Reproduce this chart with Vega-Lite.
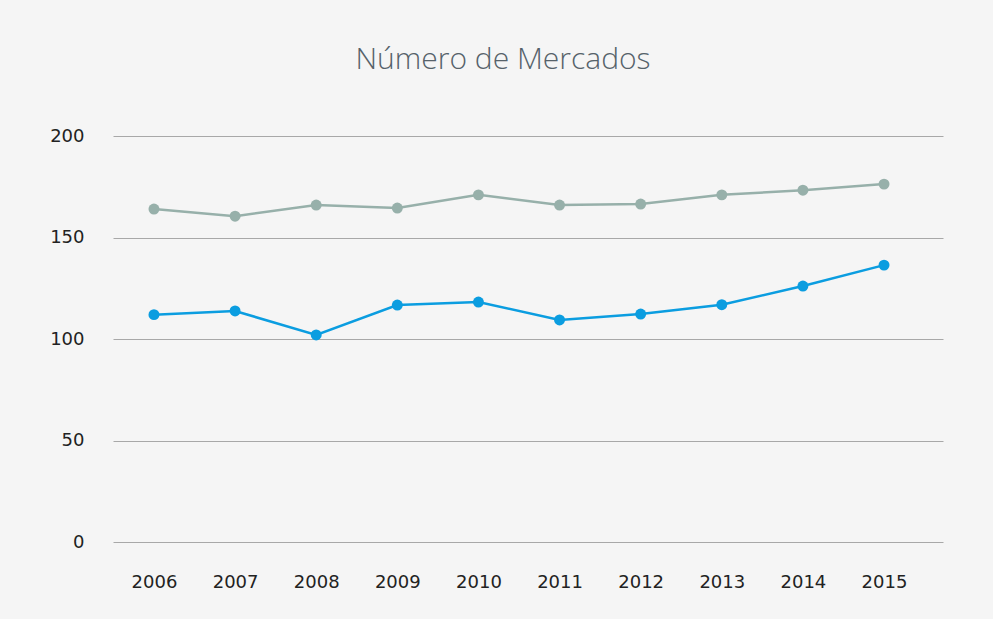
{
  "$schema": "https://vega.github.io/schema/vega-lite/v6.json",
  "autosize": {"type": "none"},
  "width": 830,
  "height": 406,
  "padding": {"left": 113, "top": 136, "right": 50, "bottom": 77},
  "background": "#f5f5f5",
  "title": {
    "text": "Número de Mercados",
    "fontSize": 30,
    "font": "Open Sans",
    "fontWeight": 300,
    "color": "#56626a",
    "anchor": "middle",
    "dx": -25,
    "offset": 52
  },
  "config": {
    "view": {"stroke": null},
    "font": "DejaVu Sans"
  },
  "data": {
    "values": [
      {"year": 2006, "series": "A", "value": 164},
      {"year": 2007, "series": "A", "value": 160.5},
      {"year": 2008, "series": "A", "value": 166},
      {"year": 2009, "series": "A", "value": 164.5},
      {"year": 2010, "series": "A", "value": 171},
      {"year": 2011, "series": "A", "value": 166},
      {"year": 2012, "series": "A", "value": 166.5},
      {"year": 2013, "series": "A", "value": 171},
      {"year": 2014, "series": "A", "value": 173.3},
      {"year": 2015, "series": "A", "value": 176.3},
      {"year": 2006, "series": "B", "value": 112},
      {"year": 2007, "series": "B", "value": 113.8},
      {"year": 2008, "series": "B", "value": 102},
      {"year": 2009, "series": "B", "value": 116.7},
      {"year": 2010, "series": "B", "value": 118.2},
      {"year": 2011, "series": "B", "value": 109.4},
      {"year": 2012, "series": "B", "value": 112.3},
      {"year": 2013, "series": "B", "value": 116.9},
      {"year": 2014, "series": "B", "value": 126.1},
      {"year": 2015, "series": "B", "value": 136.4}
    ]
  },
  "encoding": {
    "x": {
      "field": "year",
      "type": "quantitative",
      "scale": {"domain": [2005.495, 2015.727], "nice": false, "zero": false},
      "axis": {
        "title": null,
        "values": [2006, 2007, 2008, 2009, 2010, 2011, 2012, 2013, 2014, 2015],
        "format": "d",
        "grid": false,
        "domain": false,
        "ticks": false,
        "labelFontSize": 18,
        "labelColor": "#222222",
        "labelPadding": 31,
        "labelFont": "DejaVu Sans"
      }
    },
    "y": {
      "field": "value",
      "type": "quantitative",
      "scale": {"domain": [0, 200], "nice": false},
      "axis": {
        "title": null,
        "values": [0, 50, 100, 150, 200],
        "grid": true,
        "gridColor": "#a8a8a8",
        "gridWidth": 1,
        "domain": false,
        "ticks": false,
        "labelFontSize": 18,
        "labelColor": "#222222",
        "labelPadding": 29,
        "labelFont": "DejaVu Sans"
      }
    },
    "color": {
      "field": "series",
      "type": "nominal",
      "scale": {"domain": ["A", "B"], "range": ["#97b0aa", "#0b9de0"]},
      "legend": null
    }
  },
  "layer": [
    {"mark": {"type": "line", "strokeWidth": 2.5}},
    {"mark": {"type": "circle", "size": 120, "opacity": 1}}
  ]
}
